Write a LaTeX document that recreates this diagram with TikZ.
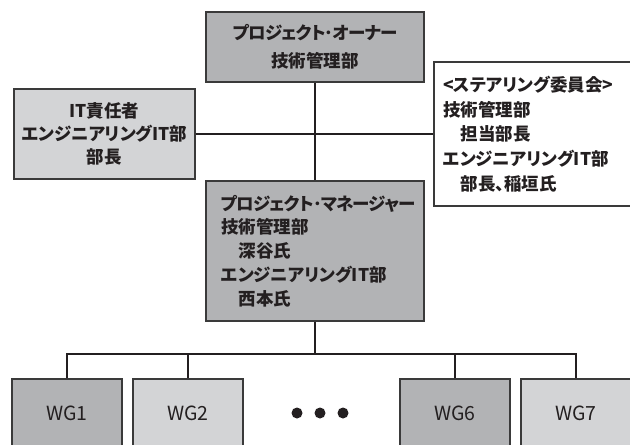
\documentclass[tikz,border=0pt]{standalone}
\usepackage{fontspec}
\newfontfamily\jp{Noto Sans CJK JP}[RawFeature=+palt]
\newfontfamily\jpw{Noto Sans CJK JP}
\newcommand\tightkana[1]{{\addfontfeature{LetterSpace=-4.5}#1}}
\definecolor{dk}{HTML}{B2B3B5}
\definecolor{lt}{HTML}{D3D4D6}
\definecolor{txt}{HTML}{231F20}
\definecolor{edge}{HTML}{3A3A3A}
\tikzset{
  box/.style={draw=edge, line width=1.1pt, inner sep=0pt, text=txt},
  jpfont/.style={font=\jp\bfseries\fontsize{17.5}{#1}\selectfont},
  wgbox/.style={box, minimum width=110, minimum height=68, font=\jpw\fontsize{19.5}{22}\selectfont},
  conn/.style={draw=txt, line width=1.1pt},
}
\begin{document}
\begin{tikzpicture}[x=1pt,y=-1pt]
\useasboundingbox (0,0) rectangle (630,445);
\clip (0,0) rectangle (630,445);
\fill[white] (0,0) rectangle (630,445);

\node[box, fill=dk, minimum width=218, minimum height=70, align=center, jpfont=28] (owner) at (315,47)
  {\tightkana{プロジェクト･オーナー}\\技術管理部};

\node[box, fill=lt, minimum width=181, minimum height=90, align=center, jpfont=23] (it) at (104.5,134)
  {IT責任者\\エンジニアリングIT部\\部長};

\node[box, fill=white, minimum width=206, minimum height=144, text width=188, inner xsep=9, align=left, jpfont=24.75] (steer) at (537,134)
  {<ステアリング委員会>\\技術管理部\\\hspace*{1em}担当部長\\エンジニアリングIT部\\\hspace*{1em}部長、稲垣氏};

\node[box, fill=dk, minimum width=218, minimum height=140, text width=188, inner xsep=15, align=left, jpfont=23.75] (pm) at (315,251)
  {\tightkana{プロジェクト･マネージャー}\\技術管理部\\\hspace*{1em}深谷氏\\エンジニアリングIT部\\\hspace*{1em}西本氏};

\node[wgbox, fill=dk] (wg1) at (67,413) {WG1};
\node[wgbox, fill=lt] (wg2) at (188,413) {WG2};
\node[wgbox, fill=dk] (wg6) at (455,413) {WG6};
\node[wgbox, fill=lt] (wg7) at (576,413) {WG7};

\fill[txt] (297,413) circle (5.5) (320,413) circle (5.5) (343,413) circle (5.5);

\coordinate (j) at (315,354);
\draw[conn] (owner) -- (pm);
\draw[conn] (it) -- (steer);
\draw[conn] (pm) -- (j);
\draw[conn] (wg1.north) |- (j) -| (wg7.north);
\draw[conn] (wg2.north) -- (wg2.north |- j);
\draw[conn] (wg6.north) -- (wg6.north |- j);
\end{tikzpicture}
\end{document}
